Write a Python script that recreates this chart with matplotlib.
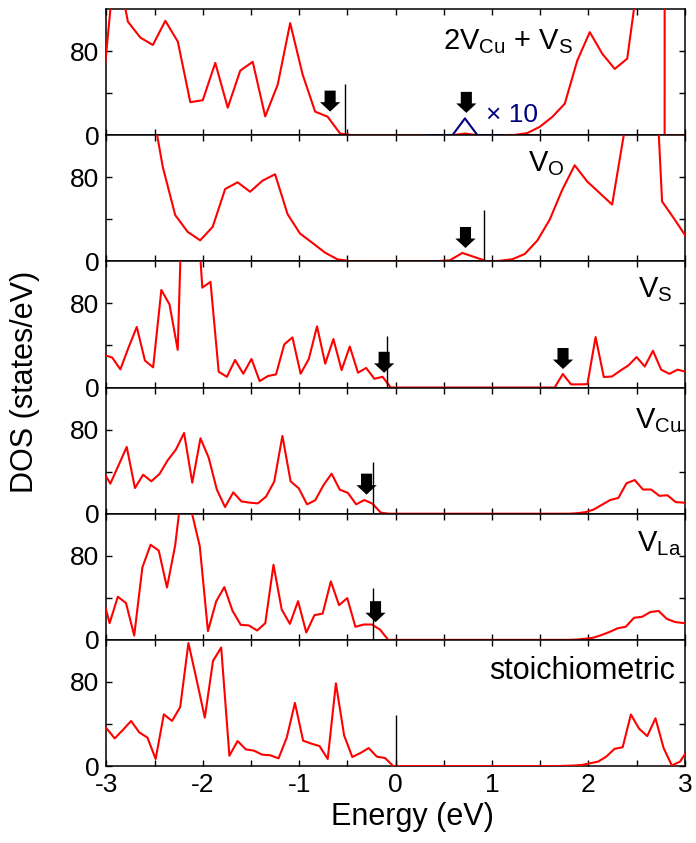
import numpy as np
import matplotlib
matplotlib.use('agg')
import matplotlib.pyplot as plt

plt.rcParams['font.family'] = ['Liberation Sans', 'DejaVu Sans']
plt.rcParams['mathtext.fontset'] = 'custom'
plt.rcParams['mathtext.rm'] = 'Liberation Sans'
plt.rcParams['axes.unicode_minus'] = False

# energy grids (eV): first point and spacing of each calculation
grid_start = [-3.037, -3.064, -3.026, -3.045, -3.0525, -3.0]
grid_step = [0.1295, 0.1295, 0.085, 0.085, 0.085, 0.085]

# DOS (states/eV), top panel to bottom panel
dos_2vcu_vs = [45, 170, 108, 92.8, 85.8, 108.8, 89, 31.4, 33.3, 68.8, 26.2, 61.4, 69.8,
               17.9, 48, 106.6, 57.6, 22.4, 17.6, 1.6, 0,
               0, 0, 0, 0, 0, 0, 0, 0, 1.6, 0, 0, 0, 0.3, 2, 8, 17.4, 30, 71, 98,
               77.5, 63, 72.8, 160, 250, 250]
tail_2vcu_vs_e = [2.79, 3.05]
tail_2vcu_vs = [0, 0]

dos_vo = [250, 250, 240, 210, 157, 90, 44, 28, 20, 32.8, 68.8, 75.2, 66.2, 76.8, 82.8,
          44.9, 26.4, 17.5, 8.3, 1.9, 0.3, 0, 0, 0, 0, 0, 0, 0.2, 1, 8, 4, 0, 0.5, 2,
          7, 19.7, 39.7, 68, 91.4, 76, 65, 54, 125, 300, 300, 57, 40, 22]

dos_vs = [31, 28.5, 17.3, 38.1, 57.6, 25.6, 19.2, 92.8, 79, 35.8, 300, 215, 95, 100.5,
          15, 10.2, 26.2, 13.1, 27.2, 6.1, 10.9, 12.5, 41, 47.7, 13.1, 27.2, 58.2, 22.7,
          46.1, 16.6, 39, 14.1, 18.6, 8.3, 10.2] + [0] * 21 + \
         [12.8, 3, 3, 3.2, 48, 10, 10.5, 16, 21, 29, 20, 35, 17, 13, 17, 15, 13]

dos_vcu = [42, 28.6, 46, 63.5, 24.4, 37.1, 30.8, 37.8, 50.8, 61, 76.8, 29.5, 71.7, 53.3,
           22.9, 6.3, 20.3, 11.7, 10.5, 9.8, 16.2, 30.5, 74, 30.8, 24.1, 8.9, 12.7, 27,
           38.1, 22.9, 19.7, 8.9, 13, 9.5, 1] + [0] * 23 + \
          [0.5, 1.5, 4, 8.5, 13, 15, 29, 32, 23, 23, 17, 17.5, 11, 10.5, 10]

dos_vla = [45, 15.9, 41, 35, 4.1, 69, 90.5, 84.8, 49.8, 89.8, 155, 122, 89.2, 8.3, 36.5,
           50.2, 27.6, 14.3, 13.7, 8.9, 15.9, 71.4, 28.9, 15.2, 36.8, 7, 23.5, 25, 55.6,
           33, 39.7, 12.4, 14.6, 14.6, 9.8] + [0] * 23 + \
          [0.3, 1, 2, 4.5, 7.5, 11, 12.5, 21, 22, 26.5, 27.5, 20, 17, 16, 15.5]

dos_stoich = [35.9, 26.3, 34.3, 42.9, 32, 27, 6.7, 49.2, 42.9, 56.2, 117, 82, 46, 100,
              112.7, 9.8, 23.8, 15.9, 14.6, 10.8, 10.2, 7.3, 27, 60, 24.1, 21.3, 19, 6.7,
              78.7, 29.2, 8.6, 12.4, 17.1, 8.9, 7.6] + [0] * 21 + \
             [0.2, 0.5, 1, 2.6, 4.2, 9, 16.3, 17.9, 49, 35.5, 28.5, 45.4, 17, 0.6, 4.2, 16]

panel_dos = [dos_2vcu_vs, dos_vo, dos_vs, dos_vcu, dos_vla, dos_stoich]
panel_labels = [r'2V$_{\mathrm{Cu}}$ + V$_{\mathrm{S}}$', r'V$_{\mathrm{O}}$',
                r'V$_{\mathrm{S}}$', r'V$_{\mathrm{Cu}}$', r'V$_{\mathrm{La}}$',
                'stoichiometric']
label_pos = [(1.84, 81.6), (1.75, 85.7), (2.87, 86), (2.965, 81), (2.965, 84.8), (2.9, 82.6)]
label_size = [21, 21, 21, 21, 21, 22]

fermi = [-0.53, 0.917, -0.085, -0.237, -0.237, 0.0]
arrows = [[(-0.68, 22.4), (0.733, 21.2)], [(0.724, 12.7)], [(-0.12, 14), (1.736, 17.6)],
          [(-0.302, 18.1)], [(-0.209, 16.8)], []]

# x10 magnified window in the top panel (grid points 26..32)
zoom_slice = slice(26, 33)
zoom_factor = 10

fig, axes = plt.subplots(6, 1, figsize=(6.96, 8.43), dpi=100, sharex=True)
fig.subplots_adjust(left=0.153, right=0.984, top=0.9893, bottom=0.0913, hspace=0)

for i, ax in enumerate(axes):
    vals = np.array(panel_dos[i], dtype=float)
    e = grid_start[i] + grid_step[i] * np.arange(len(vals))
    if i == 0:
        e_line = np.r_[e, tail_2vcu_vs_e]
        v_line = np.r_[vals, tail_2vcu_vs]
    else:
        e_line, v_line = e, vals
    ax.plot(e_line, v_line, color='#ff0000', lw=1.5, zorder=3)
    if i == 0:
        ax.plot(e[zoom_slice], zoom_factor * vals[zoom_slice], color='#000080', lw=1.5, zorder=4)
        ax.text(0.94, 12.7, u'\u00d7 10', color='#000080', fontsize=19, ha='left', va='baseline')

    ax.vlines(fermi[i], 0, 49, colors='k', lw=1.0, zorder=5)
    for (xa, tip) in arrows[i]:
        ax.arrow(xa, tip + 20, 0, -20, width=0.115, head_width=0.21, head_length=9,
                 length_includes_head=True, fc='k', ec='k', lw=0, zorder=6)

    lx, ly = label_pos[i]
    ax.text(lx, ly, panel_labels[i], fontsize=label_size[i], ha='right', va='baseline')

    ax.set_xlim(-3, 3)
    ax.set_ylim(0, 120)
    ax.set_yticks([0, 80])
    ax.set_yticks([40], minor=True)
    ax.set_xticks([-3, -2, -1, 0, 1, 2, 3])
    ax.set_xticks([-2.5, -1.5, -0.5, 0.5, 1.5, 2.5], minor=True)
    ax.tick_params(which='both', direction='in', top=True, right=True, length=4,
                   width=1, labelsize=19, pad=5)
    for sp in ax.spines.values():
        sp.set_linewidth(1.1)

axes[-1].set_xticklabels(['-3', '-2', '-1', '0', '1', '2', '3'])

fig.text(0.036, 0.547, 'DOS (states/eV)', rotation=90, fontsize=22, ha='center', va='center')
fig.text(0.592, 0.031, 'Energy (eV)', fontsize=22, ha='center', va='center')

fig.savefig('out.png', dpi=100)
